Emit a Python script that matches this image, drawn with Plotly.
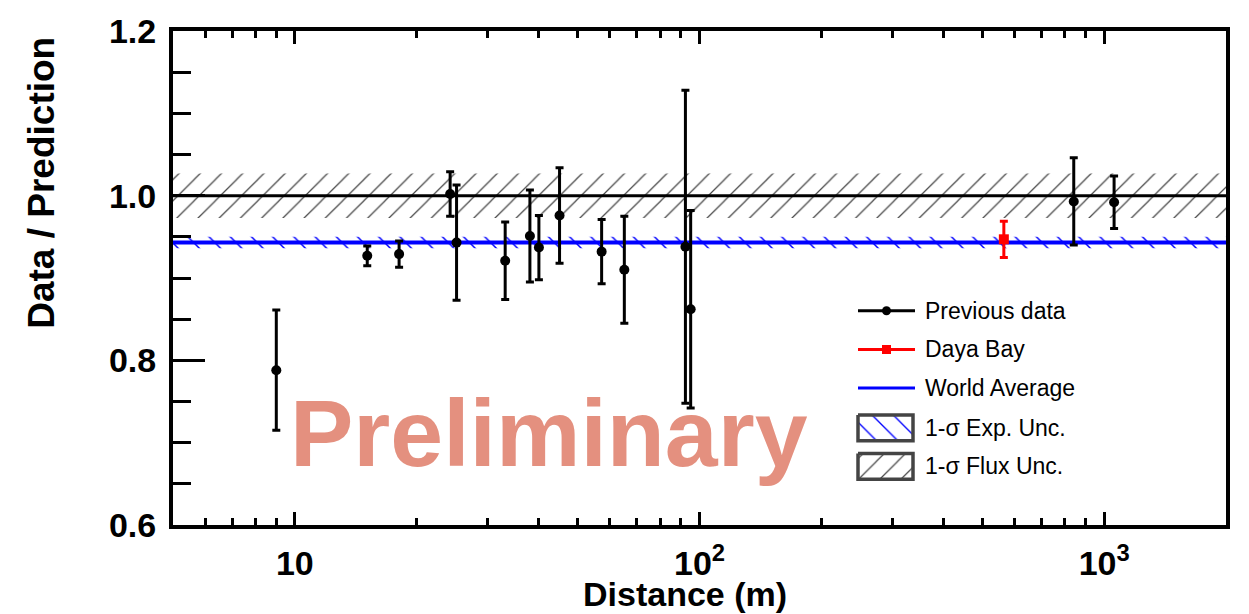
import plotly.graph_objects as go

# ---------------- data ----------------
prev_dist = [9.0, 15.1, 18.1, 24.2, 25.1, 33.1, 38.1, 40.1, 45.1, 57.3, 65.2, 92.3, 95.1, 841, 1058]
prev_ratio = [0.788, 0.927, 0.929, 1.002, 0.943, 0.921, 0.951, 0.937, 0.976, 0.932, 0.910, 0.938, 0.862, 0.993, 0.992]
prev_err = [0.073, 0.012, 0.016, 0.027, 0.070, 0.047, 0.056, 0.039, 0.058, 0.039, 0.065, 0.190, 0.120, 0.053, 0.032]

dyb_dist = [565]
dyb_ratio = [0.947]
dyb_err = [0.022]

band_x = [5, 2000]
flux_center = 1.0
flux_unc = 0.027
world_avg = 0.943
world_unc = 0.007

x_tickvals = [10, 100, 1000]
x_ticktext = ["10", "10<sup>2</sup>", "10<sup>3</sup>"]
x_minor = [6, 7, 8, 9, 20, 30, 40, 50, 60, 70, 80, 90, 200, 300, 400, 500, 600, 700, 800, 900]
y_tickvals = [0.6, 0.8, 1.0, 1.2]

legend_labels = ["Previous data", "Daya Bay", "World Average", "1-σ Exp. Unc.", "1-σ Flux Unc."]

FONT = "Liberation Sans"
BLUE = "#0000ff"
HATCH_BLUE = "#0000ff"
HATCH_GRAY = "#444444"

fig = go.Figure()

# flux uncertainty band (hatched "/")
fig.add_trace(go.Scatter(
    x=[band_x[0], band_x[1], band_x[1], band_x[0], band_x[0]],
    y=[flux_center - flux_unc, flux_center - flux_unc, flux_center + flux_unc,
       flux_center + flux_unc, flux_center - flux_unc],
    fill="toself", mode="none", fillcolor="rgba(0,0,0,0)",
    fillpattern=dict(shape="/", fgcolor=HATCH_GRAY, fgopacity=1, bgcolor="rgba(0,0,0,0)",
                     size=15, solidity=0.08),
    showlegend=False, hoverinfo="skip"))

# experimental uncertainty band (hatched "\")
fig.add_trace(go.Scatter(
    x=[band_x[0], band_x[1], band_x[1], band_x[0], band_x[0]],
    y=[world_avg - world_unc, world_avg - world_unc, world_avg + world_unc,
       world_avg + world_unc, world_avg - world_unc],
    fill="toself", mode="none", fillcolor="rgba(0,0,0,0)",
    fillpattern=dict(shape="\\", fgcolor=HATCH_BLUE, fgopacity=1, bgcolor="rgba(0,0,0,0)",
                     size=15, solidity=0.1),
    showlegend=False, hoverinfo="skip"))

# reference lines
fig.add_trace(go.Scatter(x=band_x, y=[flux_center, flux_center], mode="lines",
                         line=dict(color="black", width=3), showlegend=False, hoverinfo="skip"))
fig.add_trace(go.Scatter(x=band_x, y=[world_avg, world_avg], mode="lines",
                         line=dict(color=BLUE, width=4), showlegend=False, hoverinfo="skip"))

# previous data
fig.add_trace(go.Scatter(
    x=prev_dist, y=prev_ratio, mode="markers", name="Previous data",
    marker=dict(color="black", size=10, symbol="circle"),
    error_y=dict(type="data", array=prev_err, color="black", thickness=3, width=4),
    showlegend=False))

# Daya Bay
fig.add_trace(go.Scatter(
    x=dyb_dist, y=dyb_ratio, mode="markers", name="Daya Bay",
    marker=dict(color="#ff0000", size=10, symbol="square"),
    error_y=dict(type="data", array=dyb_err, color="#ff0000", thickness=3, width=4),
    showlegend=False))

# ---------------- legend (drawn on an overlay axis, units = screen px) ----------------
LEG_X0, LEG_X1 = 855, 920          # overlay-axis range (px)
LEG_Y0, LEG_Y1 = 290, 490
leg_rows = [309, 348, 387, 427, 466]
sw_l, sw_r = 858, 915
box_h = 13

def px2paper_x(px):
    return (px - 173) / 1053

def px2paper_y(py):
    return (525 - py) / 498

lx = "x2"; ly = "y2"
# line swatches
for i, (col, sym) in enumerate([("black", "circle"), ("#ff0000", "square"), (BLUE, None)]):
    fig.add_trace(go.Scatter(x=[sw_l, sw_r], y=[leg_rows[i]] * 2, mode="lines",
                             line=dict(color=col, width=3), xaxis=lx, yaxis=ly,
                             showlegend=False, hoverinfo="skip"))
    if sym:
        fig.add_trace(go.Scatter(x=[(sw_l + sw_r) / 2], y=[leg_rows[i]], mode="markers",
                                 marker=dict(color=col, size=9, symbol=sym),
                                 xaxis=lx, yaxis=ly, showlegend=False, hoverinfo="skip"))
# hatched boxes
for i, (shape, col, sol) in zip([3, 4], [("\\", HATCH_BLUE, 0.09), ("/", HATCH_GRAY, 0.08)]):
    yc = leg_rows[i]
    fig.add_trace(go.Scatter(
        x=[sw_l, sw_r - 2, sw_r - 2, sw_l, sw_l],
        y=[yc - box_h, yc - box_h, yc + box_h, yc + box_h, yc - box_h],
        fill="toself", mode="lines", fillcolor="rgba(0,0,0,0)",
        fillpattern=dict(shape=shape, fgcolor=col, fgopacity=1, bgcolor="white",
                         size=15, solidity=sol),
        line=dict(color="#444444", width=3.5), xaxis=lx, yaxis=ly,
        showlegend=False, hoverinfo="skip"))
for i, lab in enumerate(legend_labels):
    fig.add_annotation(text=lab, xref="paper", yref="paper",
                       x=px2paper_x(923), y=px2paper_y(leg_rows[i]),
                       xanchor="left", yanchor="middle", showarrow=False,
                       font=dict(family=FONT, size=23, color="black"))

fig.add_annotation(text="<b>Preliminary</b>", xref="paper", yref="paper",
                   x=px2paper_x(549), y=px2paper_y(432), xanchor="center", yanchor="middle",
                   showarrow=False, font=dict(family=FONT, size=95, color="#e4907f"))

fig.add_annotation(text="<b>Data / Prediction</b>", xref="paper", yref="paper",
                   x=px2paper_x(42), y=px2paper_y(180), xanchor="center", yanchor="middle",
                   showarrow=False, textangle=-90,
                   font=dict(family=FONT, size=37, color="black"))
fig.add_annotation(text="<b>Distance (m)</b>", xref="paper", yref="paper",
                   x=px2paper_x(685), y=px2paper_y(595), xanchor="center", yanchor="middle",
                   showarrow=False, font=dict(family=FONT, size=34, color="black"))

fig.update_xaxes(type="log", range=[0.69897, 3.30103],
                 tickmode="array", tickvals=x_tickvals, ticktext=x_ticktext,
                 ticks="inside", ticklen=13, tickwidth=2.5, tickcolor="black",
                 minor=dict(tickmode="array", tickvals=x_minor, ticks="inside",
                            ticklen=7, tickwidth=2.5, tickcolor="black", showgrid=False),
                 showline=True, linewidth=4, linecolor="black", mirror="ticks",
                 showgrid=False, zeroline=False, ticklabelstandoff=5,
                 tickfont=dict(family=FONT, size=34, color="black", weight="bold"))
fig.update_yaxes(range=[0.6, 1.2], tickmode="array", tickvals=y_tickvals,
                 tickformat=".1f",
                 ticks="inside", ticklen=32, tickwidth=2.5, tickcolor="black",
                 minor=dict(dtick=0.05, ticks="inside", ticklen=18, tickwidth=2.5,
                            tickcolor="black", showgrid=False),
                 showline=True, linewidth=4, linecolor="black", mirror=True,
                 showgrid=False, zeroline=False, ticklabelstandoff=6,
                 tickfont=dict(family=FONT, size=34, color="black", weight="bold"))

fig.update_layout(
    xaxis2=dict(domain=[px2paper_x(LEG_X0), px2paper_x(LEG_X1)], range=[LEG_X0, LEG_X1],
                anchor="y2", visible=False, fixedrange=True),
    yaxis2=dict(domain=[px2paper_y(LEG_Y1), px2paper_y(LEG_Y0)], range=[LEG_Y1, LEG_Y0],
                anchor="x2", visible=False, fixedrange=True),
    width=1249, height=614,
    margin=dict(l=173, r=23, t=27, b=89),
    plot_bgcolor="white", paper_bgcolor="white",
    showlegend=False,
)

fig.write_html("out.html", config={"displayModeBar": False},
               post_script="document.body.style.margin='0';document.body.style.overflow='hidden';")
